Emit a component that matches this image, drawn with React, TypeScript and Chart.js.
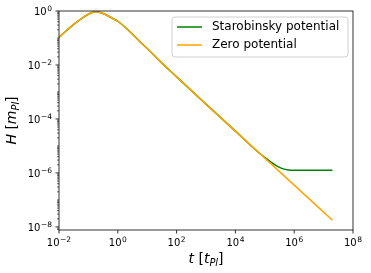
import { useEffect, useRef } from 'react';
import { Chart, registerables } from 'chart.js';

Chart.register(...registerables);

// ---- data ----
const tZero = [1e-2, 1.58e-2, 2.51e-2, 3.98e-2, 6.31e-2, 0.1, 0.126, 0.158, 0.178, 0.2, 0.251, 0.316, 0.398, 0.631, 1, 1.78, 3.16, 5.62, 10, 31.6, 100, 1e3, 1e4, 1e5, 1e6, 1e7, 2e7];
const hZero = [0.105, 0.166, 0.257, 0.389, 0.562, 0.759, 0.861, 0.923, 0.933, 0.923, 0.881, 0.813, 0.724, 0.55, 0.417, 0.251, 0.138, 0.0741, 0.0407, 0.0117, 3.63e-3, 3.55e-4, 3.55e-5, 3.55e-6, 3.55e-7, 3.55e-8, 1.78e-8];
const tStaro = [1e-2, 1.58e-2, 2.51e-2, 3.98e-2, 6.31e-2, 0.1, 0.126, 0.158, 0.178, 0.2, 0.251, 0.316, 0.398, 0.631, 1, 1.78, 3.16, 5.62, 10, 31.6, 100, 1e3, 1e4, 6.31e4, 1e5, 1.58e5, 2.51e5, 3.98e5, 6.31e5, 1e6, 2e7];
const hStaro = [0.105, 0.166, 0.257, 0.389, 0.562, 0.759, 0.861, 0.923, 0.933, 0.923, 0.881, 0.813, 0.724, 0.55, 0.417, 0.251, 0.138, 0.0741, 0.0407, 0.0117, 3.63e-3, 3.55e-4, 3.55e-5, 5.62e-6, 3.8e-6, 2.57e-6, 1.82e-6, 1.45e-6, 1.29e-6, 1.26e-6, 1.26e-6];
const seriesNames = ['Starobinsky potential', 'Zero potential'];
const xTickExps = [-2, 0, 2, 4, 6, 8];
const yTickExps = [-8, -6, -4, -2, 0];

const FONT = '"DejaVu Sans", sans-serif';

function drawPow(ctx: CanvasRenderingContext2D, exp: number, x: number, baseline: number, align: 'center' | 'right') {
  const base = '10';
  const e = exp < 0 ? '\u2212' + Math.abs(exp) : String(exp);
  ctx.font = `10px ${FONT}`;
  const wb = ctx.measureText(base).width;
  ctx.font = `7.5px ${FONT}`;
  const we = ctx.measureText(e).width;
  const w = wb + we + 0.5;
  const left = align === 'center' ? x - w / 2 : x - w;
  ctx.textAlign = 'left';
  ctx.textBaseline = 'alphabetic';
  ctx.fillStyle = '#000';
  ctx.font = `10px ${FONT}`;
  ctx.fillText(base, left, baseline);
  ctx.font = `7.5px ${FONT}`;
  ctx.fillText(e, left + wb + 0.5, baseline - 4.2);
}

type Part = { text: string; italic?: boolean; sub?: boolean };
function drawRich(ctx: CanvasRenderingContext2D, parts: Part[], cx: number, baseline: number, size: number) {
  const fontOf = (p: Part) => `${p.italic ? 'italic ' : ''}${p.sub ? size * 0.7 : size}px ${FONT}`;
  let w = 0;
  for (const p of parts) {
    ctx.font = fontOf(p);
    w += ctx.measureText(p.text).width;
  }
  let x = cx - w / 2;
  ctx.textAlign = 'left';
  ctx.textBaseline = 'alphabetic';
  ctx.fillStyle = '#000';
  for (const p of parts) {
    ctx.font = fontOf(p);
    ctx.fillText(p.text, x, baseline + (p.sub ? size * 0.2 : 0));
    x += ctx.measureText(p.text).width;
  }
}

const axesPlugin = {
  id: 'mplAxes',
  afterDraw(chart: any) {
    const { ctx, chartArea: a, scales } = chart;
    const xs = scales.x;
    const ys = scales.y;
    ctx.save();
    ctx.strokeStyle = '#000';
    ctx.lineWidth = 0.8;
    ctx.strokeRect(a.left, a.top, a.right - a.left, a.bottom - a.top);
    // x ticks
    for (const e of xTickExps) {
      const px = xs.getPixelForValue(Math.pow(10, e));
      ctx.beginPath();
      ctx.moveTo(px, a.bottom);
      ctx.lineTo(px, a.bottom + 3.5);
      ctx.stroke();
      drawPow(ctx, e, px, a.bottom + 16, 'center');
    }
    // y minor ticks
    ctx.lineWidth = 0.6;
    for (let n = -9; n <= 0; n++) {
      for (let k = 1; k <= 9; k++) {
        const v = k * Math.pow(10, n);
        if (v < ys.min || v > ys.max) continue;
        if (k === 1 && n % 2 === 0) continue;
        const py = ys.getPixelForValue(v);
        ctx.beginPath();
        ctx.moveTo(a.left, py);
        ctx.lineTo(a.left - 2, py);
        ctx.stroke();
      }
    }
    ctx.lineWidth = 0.8;
    for (const e of yTickExps) {
      const py = ys.getPixelForValue(Math.pow(10, e));
      ctx.beginPath();
      ctx.moveTo(a.left, py);
      ctx.lineTo(a.left - 3.5, py);
      ctx.stroke();
      drawPow(ctx, e, a.left - 7, py + 3.8, 'right');
    }
    // axis titles
    drawRich(ctx, [{ text: 't', italic: true }, { text: ' [' }, { text: 't', italic: true }, { text: 'Pl', italic: true, sub: true }, { text: ']' }], (a.left + a.right) / 2, 263, 14);
    ctx.save();
    ctx.translate(16, (a.top + a.bottom) / 2);
    ctx.rotate(-Math.PI / 2);
    drawRich(ctx, [{ text: 'H', italic: true }, { text: ' [' }, { text: 'm', italic: true }, { text: 'Pl', italic: true, sub: true }, { text: ']' }], 0, 0, 14);
    ctx.restore();
    // legend
    const lx = 172, ly = 17, lw = 176, lh = 40, r = 3;
    ctx.beginPath();
    ctx.moveTo(lx + r, ly);
    ctx.arcTo(lx + lw, ly, lx + lw, ly + lh, r);
    ctx.arcTo(lx + lw, ly + lh, lx, ly + lh, r);
    ctx.arcTo(lx, ly + lh, lx, ly, r);
    ctx.arcTo(lx, ly, lx + lw, ly, r);
    ctx.closePath();
    ctx.fillStyle = 'rgba(255,255,255,0.8)';
    ctx.fill();
    ctx.strokeStyle = '#d0d0d0';
    ctx.lineWidth = 1;
    ctx.stroke();
    const colors = ['green', 'orange'];
    seriesNames.forEach((name, i) => {
      const yy = 27 + i * 18;
      ctx.strokeStyle = colors[i];
      ctx.lineWidth = 1.5;
      ctx.beginPath();
      ctx.moveTo(177, yy);
      ctx.lineTo(202, yy);
      ctx.stroke();
      ctx.fillStyle = '#000';
      ctx.font = `12px ${FONT}`;
      ctx.textAlign = 'left';
      ctx.textBaseline = 'middle';
      ctx.fillText(name, 212, yy);
    });
    ctx.restore();
  },
};

export default function App() {
  const ref = useRef<HTMLCanvasElement | null>(null);
  useEffect(() => {
    if (!ref.current) return;
    const chart = new Chart(ref.current, {
      type: 'line',
      data: {
        datasets: [
          {
            label: seriesNames[0],
            data: tStaro.map((t, i) => ({ x: t, y: hStaro[i] })),
            borderColor: 'green',
            borderWidth: 1.5,
            pointRadius: 0,
            cubicInterpolationMode: 'monotone',
            order: 1,
          },
          {
            label: seriesNames[1],
            data: tZero.map((t, i) => ({ x: t, y: hZero[i] })),
            borderColor: 'orange',
            borderWidth: 1.5,
            pointRadius: 0,
            cubicInterpolationMode: 'monotone',
            order: 0,
          },
        ],
      },
      options: {
        animation: false,
        responsive: false,
        devicePixelRatio: 1,
        layout: { padding: { left: 59, top: 11, right: 18, bottom: 43 } },
        plugins: { legend: { display: false }, tooltip: { enabled: false } },
        scales: {
          x: { type: 'logarithmic', min: 1e-2, max: 1e8, display: false },
          y: { type: 'logarithmic', min: 7.7e-9, max: 1, display: false },
        },
      },
      plugins: [axesPlugin],
    });
    return () => chart.destroy();
  }, []);
  return (
    <div style={{ position: 'absolute', left: 0, top: 0, width: 371, height: 273, background: '#fff' }}>
      <canvas ref={ref} width={371} height={273} style={{ width: 371, height: 273 }} />
    </div>
  );
}
